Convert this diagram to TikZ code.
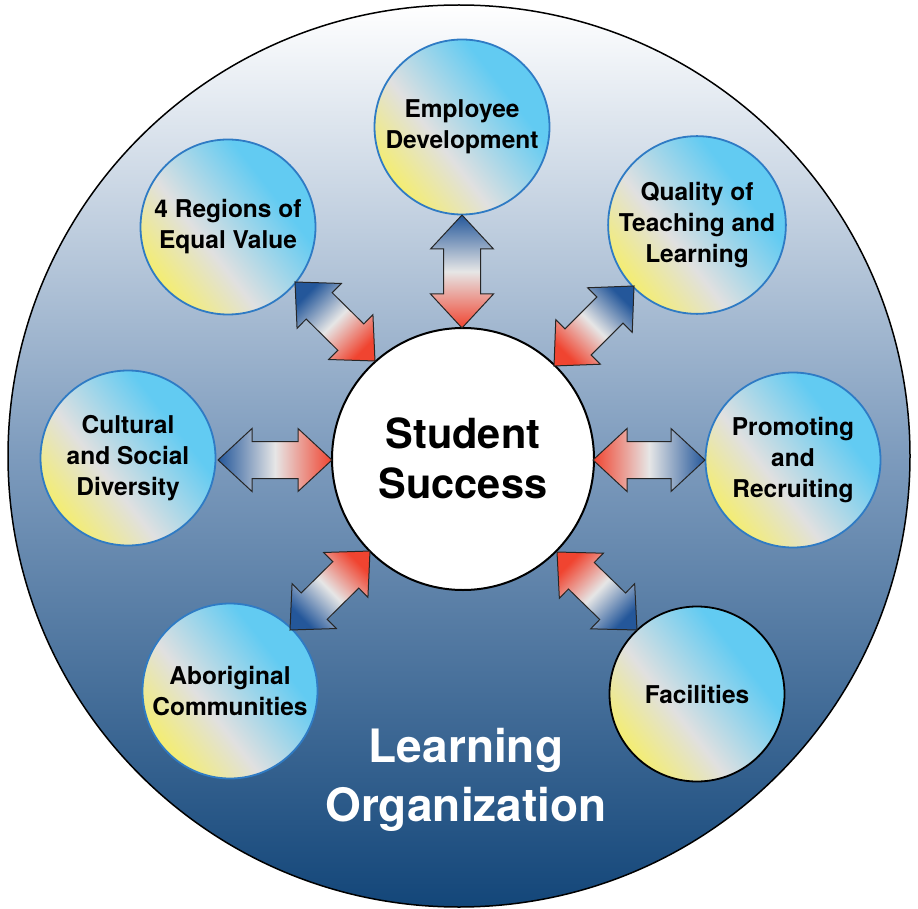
\documentclass[tikz,border=0pt]{standalone}
\usepackage{fontspec}
\setmainfont{TeX Gyre Heros}
\usetikzlibrary{calc}
\definecolor{bigmid}{HTML}{7D9BBD}
\definecolor{bigbot}{HTML}{134679}
\definecolor{arrblue}{HTML}{24579A}
\definecolor{arrmid}{HTML}{E6E6E6}
\definecolor{arrred}{HTML}{F04430}
\definecolor{cyel}{HTML}{F5EE6A}
\definecolor{cgray}{HTML}{E0E0E0}
\definecolor{ccyan}{HTML}{62CBF2}
\definecolor{cborder}{HTML}{2F7BC4}
\pgfdeclareverticalshading{topicshade}{100bp}{color(0bp)=(cyel); color(24bp)=(cyel); color(42bp)=(cgray); color(66bp)=(ccyan); color(100bp)=(ccyan)}
\tikzset{
  bigcirc/.style={circle, draw=black, line width=1.5pt, inner sep=0pt, outer sep=0pt, minimum size=902pt,
     top color=white, bottom color=bigbot, middle color=bigmid},
  topic/.style={circle, draw=cborder, line width=1.8pt, inner sep=0pt, outer sep=0pt, minimum size=175pt,
     shading=topicshade, shading angle=-52, align=center, text=black,
     font=\fontsize{24.5}{31}\selectfont\bfseries},
  hub/.style={circle, draw=black, line width=2pt, fill=white, inner sep=0pt, outer sep=0pt, minimum size=262pt},
  hubtext/.style={align=center, inner sep=0pt, font=\fontsize{41.5}{50}\selectfont\bfseries},
  orgtext/.style={align=center, inner sep=0pt, text=white, font=\fontsize{46}{59}\selectfont\bfseries},
  arrowsty/.style={draw=black!85, line width=1pt, line join=miter}
}
\newcommand{\twoarrow}[2]{%
  \path let \p1=(#1), \p2=(#2) in
    \pgfextra{\pgfmathsetmacro\arrang{atan2(\y2-\y1,\x2-\x1)}%
      \pgfmathsetmacro\arrlen{veclen(\x2-\x1,\y2-\y1)}%
      \pgfmathsetmacro\arrshade{\arrang+90}%
      \global\let\arrang\arrang\global\let\arrlen\arrlen\global\let\arrshade\arrshade};
  \begin{scope}[shift={(#1)}, rotate=\arrang, x=1pt, y=1pt]
    \shade[arrowsty, left color=arrblue, right color=arrred, middle color=arrmid, shading angle=\arrshade]
      (0,0) -- (34,31.5) -- (34,18.5) -- ({\arrlen-34},18.5)
      -- ({\arrlen-34},31.5) -- (\arrlen,0) -- ({\arrlen-34},-31.5)
      -- ({\arrlen-34},-18.5) -- (34,-18.5) -- (34,-31.5) -- cycle;
  \end{scope}}
\begin{document}
\begin{tikzpicture}[x=1pt, y=-1pt]
\useasboundingbox (0,0) rectangle (918,909);
\node[bigcirc] (org) at (459,456) {};
\node[orgtext] (orgt) at (466,780) {Learning\\Organization};

\node[topic] (emp) at (462,127) {Employee\\Development};
\node[topic] (qual) at (697,225) {Quality of\\Teaching and\\Learning};
\node[topic] (prom) at (793,460) {Promoting\\and\\Recruiting};
\node[topic, draw=black] (fac) at (697,694) {Facilities};
\node[topic] (abo) at (230,691) {Aboriginal\\Communities};
\node[topic] (cul) at (128,458) {Cultural\\and Social\\Diversity};
\node[topic] (reg) at (228,227) {4 Regions of\\Equal Value};

\node[hub] (ss) at (463,459) {};
\node[hubtext] (sst) at (463,458) {Student\\Success};

\coordinate (empB) at (462,215); \coordinate (empR) at (462,328);
\coordinate (qualB) at (634,286); \coordinate (qualR) at (554,366);
\coordinate (promB) at (705,460); \coordinate (promR) at (593,460);
\coordinate (facB) at (637,630); \coordinate (facR) at (557,552);
\coordinate (aboB) at (290,630); \coordinate (aboR) at (370,551);
\coordinate (culB) at (218,460); \coordinate (culR) at (332,460);
\coordinate (regB) at (295,282); \coordinate (regR) at (375,361);

\twoarrow{empB}{empR}
\twoarrow{qualB}{qualR}
\twoarrow{promB}{promR}
\twoarrow{facB}{facR}
\twoarrow{aboB}{aboR}
\twoarrow{culB}{culR}
\twoarrow{regB}{regR}
\end{tikzpicture}
\end{document}
